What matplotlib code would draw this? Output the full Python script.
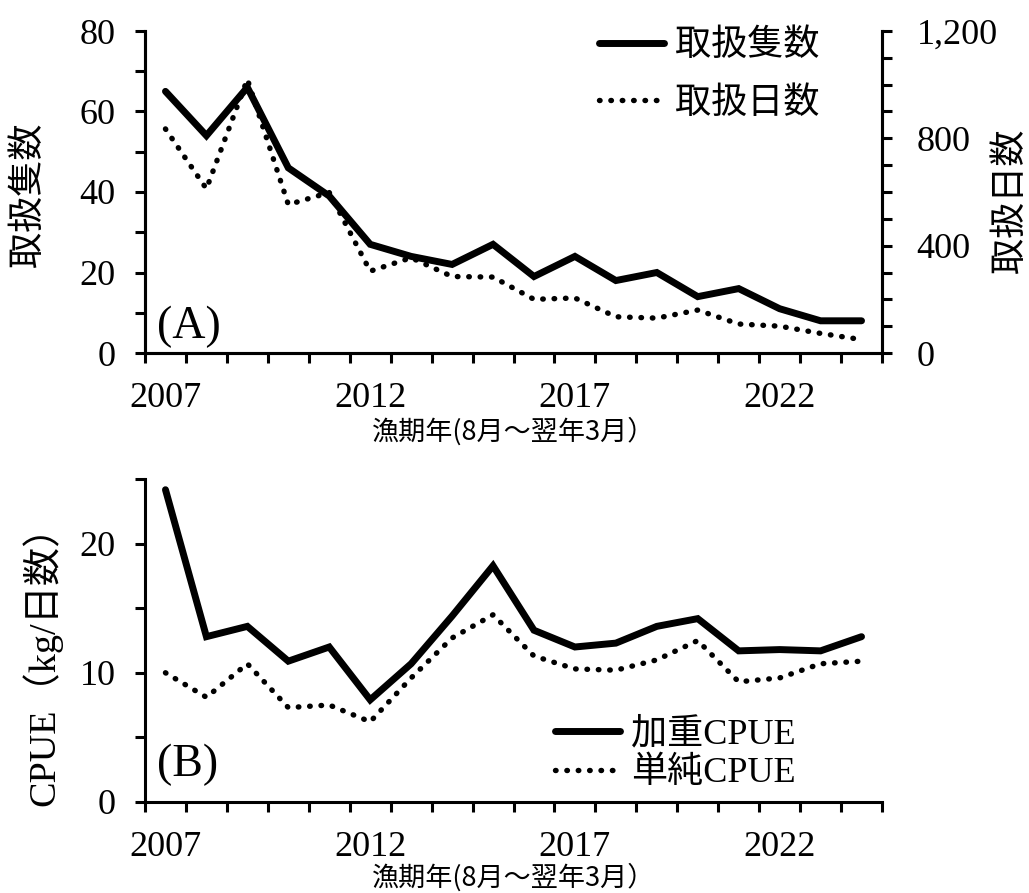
import numpy as np
import matplotlib.pyplot as plt
from matplotlib.ticker import FixedLocator

plt.rcParams['font.family'] = ['Liberation Serif', 'Noto Sans CJK JP']

# ---- data ----
years = list(range(2007, 2025))
vessels = [65, 54, 66, 46, 39, 27, 24, 22, 27, 19, 24, 18, 20, 14, 16, 11, 8, 8]      # 取扱隻数
days = [835, 612, 1020, 553, 598, 305, 355, 285, 283, 200, 205, 135, 130, 160, 108, 100, 73, 50]  # 取扱日数
cpue_w = [24.2, 12.8, 13.6, 10.9, 12.0, 7.9, 10.7, 14.4, 18.3, 13.3, 12.0, 12.3, 13.6, 14.2, 11.7, 11.8, 11.7, 12.8]  # 加重CPUE
cpue_s = [10.0, 8.1, 10.7, 7.3, 7.5, 6.2, 9.6, 12.7, 14.5, 11.3, 10.3, 10.2, 11.0, 12.5, 9.3, 9.6, 10.7, 10.9]      # 単純CPUE
year_labels = ['2007', '2012', '2017', '2022']

xlabel = '漁期年(8月～翌年3月）'
JP = ['Noto Sans CJK JP']

SOLID = dict(color='black', lw=5, solid_joinstyle='miter', solid_capstyle='round')
DOTTED = dict(color='black', lw=3.9, linestyle=(0, (0.1, 2.0)), dash_capstyle='round')

fig = plt.figure(figsize=(10.29, 8.93), dpi=100)
ax1 = fig.add_axes([145/1029, 1-353/893, 737/1029, 322/893])
ax2 = fig.add_axes([145/1029, 1-801.7/893, 737/1029, 322.3/893])

x = np.arange(len(years))


def style_xaxis(ax, label_y):
    ax.set_xlim(-0.5, len(years) - 0.5)
    ax.set_xticks([0, 5, 10, 15])
    ax.set_xticklabels(year_labels)
    ax.xaxis.set_minor_locator(FixedLocator(np.arange(-0.5, len(years), 1)))
    ax.tick_params(axis='x', which='major', length=0, pad=21, labelsize=26)
    ax.tick_params(axis='x', which='minor', length=7, width=2.2, direction='out')
    ax.set_xlabel(xlabel, fontsize=19.5, family=JP)
    ax.xaxis.set_label_coords(0.5, label_y)
    for s in ['left', 'bottom', 'right', 'top']:
        ax.spines[s].set_linewidth(2.2)
    ax.spines['top'].set_visible(False)


# ---- (A) ----
ax1.plot(x, vessels, label='取扱隻数', **SOLID)
ax1.set_ylim(0, 80)
ax1.set_yticks([0, 20, 40, 60, 80])
ax1.yaxis.set_minor_locator(FixedLocator(np.arange(0, 81, 10)))
ax1.tick_params(axis='y', which='both', length=7, width=2.2, labelsize=26, pad=14)
ax1.set_ylabel('取扱隻数', fontsize=26, family=JP)
ax1.yaxis.set_label_coords(-0.135, 0.49)
style_xaxis(ax1, -0.2)

ax1r = ax1.twinx()
ax1r.plot(x, days, label='取扱日数', **DOTTED)
ax1r.set_ylim(0, 1200)
ax1r.set_yticks([0, 400, 800, 1200])
ax1r.set_yticklabels(['0', '400', '800', '1,200'])
ax1r.yaxis.set_minor_locator(FixedLocator(np.arange(0, 1201, 100)))
ax1r.tick_params(axis='y', which='both', length=7, width=2.2, labelsize=26, pad=18)
for s in ['left', 'bottom', 'right']:
    ax1r.spines[s].set_linewidth(2.2)
ax1r.spines['top'].set_visible(False)
fig.text(1010/1029, 1-201/893, '取扱日数', rotation=90, ha='center', va='center',
         fontsize=26, family=JP)

h1, l1 = ax1.get_legend_handles_labels()
h2, l2 = ax1r.get_legend_handles_labels()
ax1r.legend(h1 + h2, l1 + l2, loc='upper left', bbox_to_anchor=(0.592, 1.068),
            frameon=False, borderpad=0, handlelength=1.8, handletextpad=0.3,
            labelspacing=0.6, prop={'family': JP, 'size': 26})
ax1.text(0.016, 0.045, '(A)', transform=ax1.transAxes, fontsize=33, va='baseline', ha='left')

# ---- (B) ----
ax2.plot(x, cpue_w, label='加重CPUE', **SOLID)
ax2.plot(x, cpue_s, label='単純CPUE', **DOTTED)
ax2.set_ylim(0, 25)
ax2.set_yticks([0, 10, 20])
ax2.yaxis.set_minor_locator(FixedLocator(np.arange(0, 26, 5)))
ax2.tick_params(axis='y', which='both', length=7, width=2.2, labelsize=26, pad=14)
ax2.set_ylabel('CPUE（kg/日数）', fontsize=27.5)
ax2.yaxis.set_label_coords(-0.112, 0.45)
style_xaxis(ax2, -0.19)
ax2.spines['right'].set_visible(False)
ax2.legend(loc='upper left', bbox_to_anchor=(0.532, 0.316), frameon=False, borderpad=0,
           handlelength=1.8, handletextpad=0.3, labelspacing=0.15,
           prop={'size': 26})
ax2.text(0.016, 0.08, '(B)', transform=ax2.transAxes, fontsize=33, va='baseline', ha='left')

fig.savefig('out.png', dpi=100)
